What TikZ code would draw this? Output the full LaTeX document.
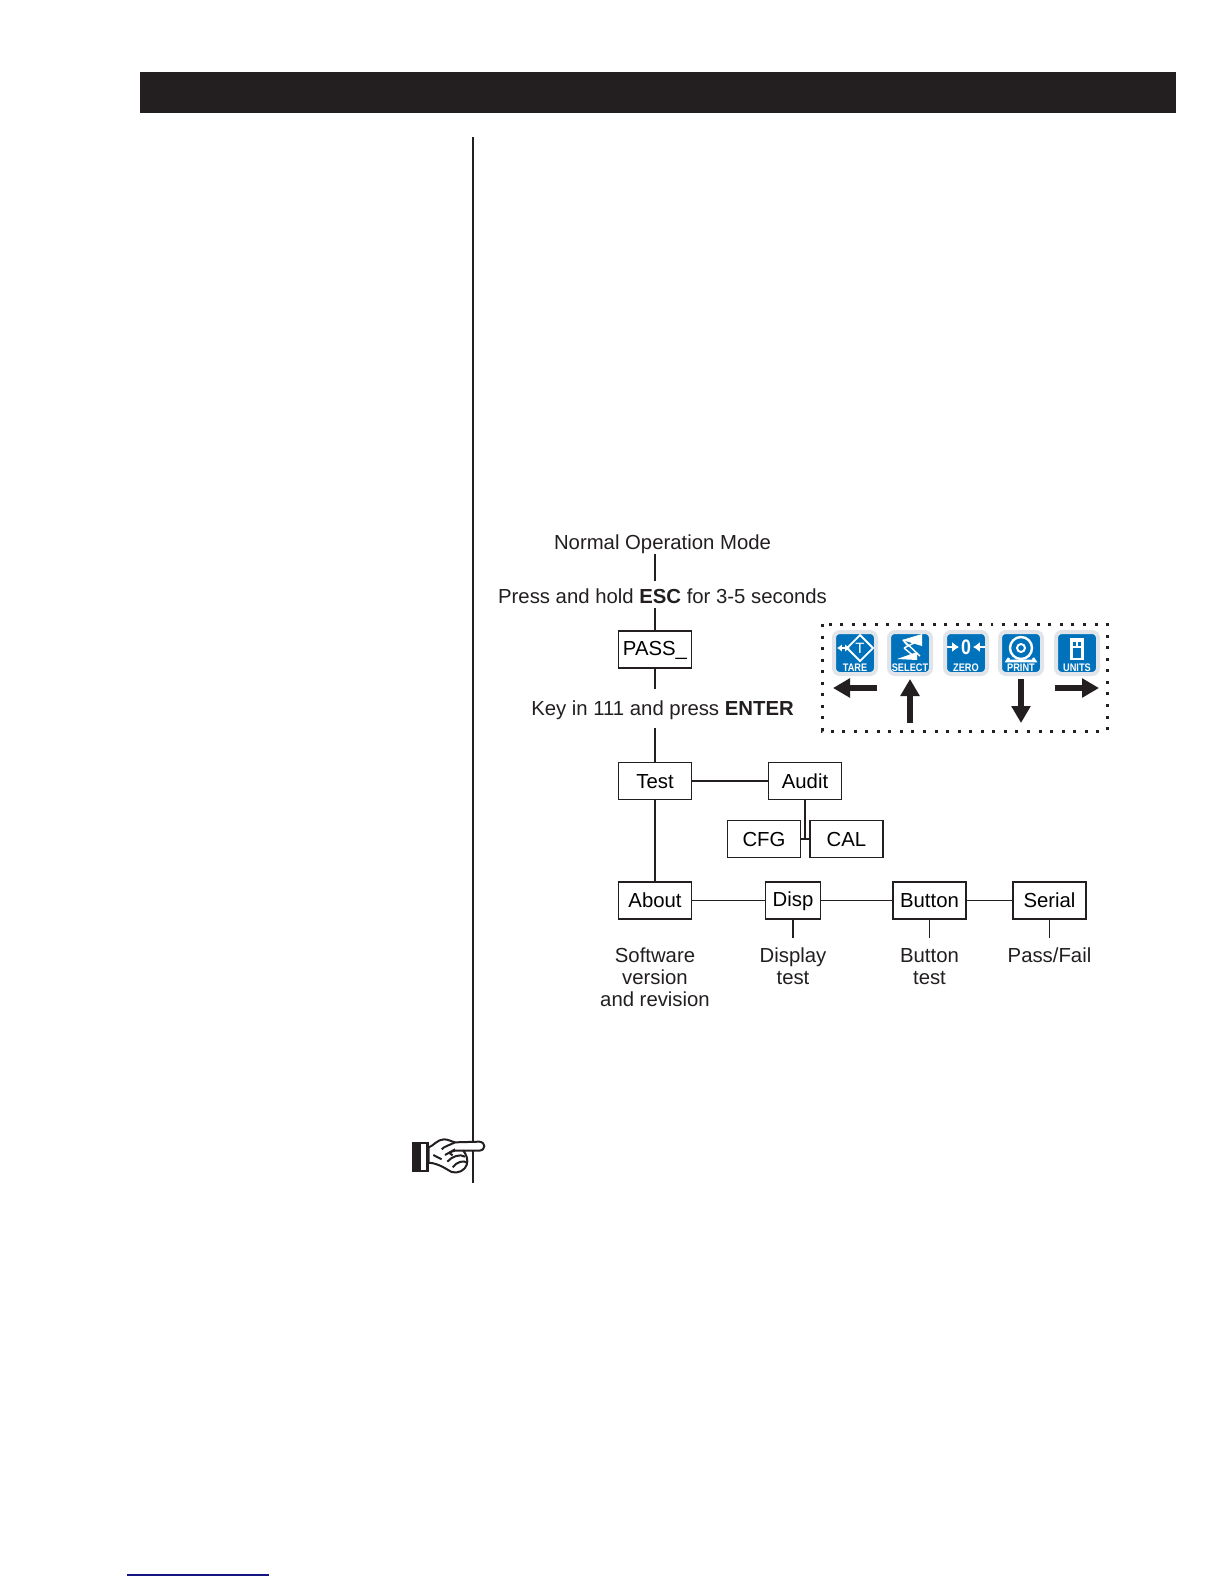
\documentclass[tikz,border=0pt]{standalone}
\usepackage{fontspec}
\setmainfont{Liberation Sans}
\usetikzlibrary{arrows.meta,positioning,calc}
\definecolor{barBlack}{RGB}{35,31,32}
\definecolor{keyBlue}{RGB}{0,114,188}
\definecolor{keyHalo}{RGB}{225,228,232}
\definecolor{linkNavy}{RGB}{20,20,130}
\tikzset{
  boxnode/.style={draw=barBlack, line width=.75pt, minimum height=18.3bp, inner sep=0pt, text height=8bp, text depth=.7bp, font=\fontsize{10.2}{11}\selectfont},
  labelnode/.style={text=barBlack, inner sep=0pt, align=center, font=\fontsize{10.2}{11}\selectfont},
  flowline/.style={draw=barBlack, line width=.7pt},
  keynode/.style={fill=keyBlue, draw=keyHalo, line width=2pt, rounded corners=3pt, minimum width=21bp, minimum height=21bp, inner sep=0pt},
  keytext/.style={text=white, inner sep=0pt, xscale=.84, font=\bfseries\fontsize{5.5}{6}\selectfont},
  keyglyph/.style={draw=white, line width=.9pt},
  bigarrow/.style={draw=barBlack, line width=3.3bp, -{Triangle[length=8.5bp,width=9.2bp]}}
}
\begin{document}
\begin{tikzpicture}[x=0.5bp,y=-0.5bp]
  \useasboundingbox (0,0) rectangle (1224,1584);
  \fill[white] (0,0) rectangle (1224,1584);
  \fill[barBlack] (140,72) rectangle (1176,113);
  \coordinate (railtop) at (473,137);
  \coordinate (railend) at (473,1183);
  \draw[barBlack, line width=1pt] (railtop) -- (railend);
  \draw[linkNavy, line width=.7pt] (127,1575) -- (269,1575);

  % flow chart
  \node[labelnode] (normal) at (662.5,544) {Normal Operation Mode};
  \node[labelnode] (press) at (662.5,596) {Press and hold \textbf{ESC} for 3-5 seconds};
  \node[boxnode, minimum width=36.5bp, text depth=1.7bp] (pass) at (655,649.5) {PASS\_};
  \node[labelnode] (keyin) at (662.5,710) {Key in 111 and press \textbf{ENTER}};
  \node[boxnode, minimum width=36.5bp] (test) at (655,781) {Test};
  \node[boxnode, minimum width=36.5bp] (audit) at (805,781) {Audit};
  \node[boxnode, minimum width=36.5bp] (cfg) at (764,839) {CFG};
  \node[boxnode, minimum width=36.5bp] (cal) at (846.5,839) {CAL};
  \node[boxnode, minimum width=36.5bp] (about) at (655,900.5) {About};
  \node[boxnode, minimum width=27.5bp, text depth=2.4bp] (disp) at (793,900.5) {Disp};
  \node[boxnode, minimum width=36.5bp] (button) at (929.5,900.5) {Button};
  \node[boxnode, minimum width=36.5bp] (serial) at (1049.5,900.5) {Serial};
  \node[labelnode, below=14bp of about] (softtext) {Software\\version\\and revision};
  \node[labelnode, below=14bp of disp] (disptext) {Display\\test};
  \node[labelnode, below=14.5bp of button] (buttontext) {Button\\test};
  \node[labelnode, below=14bp of serial] (serialtext) {Pass/Fail};

  \draw[flowline] ($(pass |- normal)+(0,10)$) -- ($(pass |- press)+(0,-15)$);
  \draw[flowline] ($(pass |- press)+(0,12)$) -- (pass.north);
  \draw[flowline] (pass.south) -- ($(pass |- keyin)+(0,-21)$);
  \draw[flowline] ($(pass |- keyin)+(0,18)$) -- (test.north);
  \draw[flowline] (test) -- (audit);
  \draw[flowline] (test) -- (about);
  \draw[flowline, line width=.85pt] (audit.south) -- (audit |- cfg);
  \draw[flowline] (cfg) -- (cal);
  \draw[flowline] (about) -- (disp);
  \draw[flowline] (disp) -- (button);
  \draw[flowline] (button) -- (serial);
  \draw[flowline] (disp.south) -- ++(0,18);
  \draw[flowline] (button.south) -- ++(0,18);
  \draw[flowline] (serial.south) -- ++(0,18);

  % keypad
  \coordinate (dotnw) at (822,624);
  \coordinate (dotse) at (1107,731);
  \draw[barBlack, line width=1.5pt, dash pattern=on 1.5pt off 4.3pt] (dotnw) rectangle (dotse);
  \foreach \keyname/\keyx/\keylabel in {tare/855/TARE, select/910/SELECT, zero/966/ZERO, print/1021/PRINT, units/1077/UNITS}{
    \node[keynode] (\keyname) at (\keyx,653) {};
    \node[keytext] at (\keyx,667.5) {\keylabel};
  }
  \begin{scope}[shift={(tare)}]
    \draw[keyglyph] (5,-18) -- (18,-5) -- (5,8) -- (-8,-5) -- cycle;
    \node[text=white, inner sep=0pt, font=\fontsize{7.5}{7.5}\selectfont] at (5,-5) {T};
    \draw[keyglyph, line width=1pt, {Latex[length=2.4bp,width=3.6bp]}-{Latex[length=2.4bp,width=3.6bp]}] (-18,-5) -- (-5,-5);
  \end{scope}
  \begin{scope}[shift={(select)}]
    \fill[white] (12,-19) -- (-8,-13) -- (12,-7) -- cycle;
    \fill[white] (-13,6) -- (7,-1) -- (7,7) -- cycle;
    \draw[keyglyph, line width=.7pt] (-7,-13) -- (10,3) (-6,-5) -- (8,-12) (-6,-5) -- (6,5) (-7,-13) -- (-3,-8);
  \end{scope}
  \begin{scope}[shift={(zero)}]
    \node[text=white, inner sep=0pt, font=\bfseries\fontsize{10.5}{10.5}\selectfont, xscale=.85] at (0,-6) {0};
    \draw[keyglyph, line width=1.4pt, -{Latex[length=3.4bp,width=5bp]}] (-19,-6) -- (-7,-6);
    \draw[keyglyph, line width=1.4pt, -{Latex[length=3.4bp,width=5bp]}] (19,-6) -- (7,-6);
  \end{scope}
  \begin{scope}[shift={(print)}]
    \draw[keyglyph, line width=1.2pt] (0,-5) circle (11);
    \draw[keyglyph, line width=1pt] (0,-5) circle (4);
    \draw[keyglyph, line width=1.3pt] (-12,5) -- (-14,8) -- (14,8) -- (12,5);
  \end{scope}
  \begin{scope}[shift={(units)}]
    \draw[keyglyph, line width=1.2pt] (-5.5,-6) rectangle (5.5,6);
    \fill[white] (-7,-15) rectangle (7,-11);
    \draw[keyglyph, line width=1.2pt] (0,-11) -- (0,-6) (-5.5,-6) -- (-5.5,-11) (5.5,-6) -- (5.5,-11);
  \end{scope}
  \coordinate (leftstart) at (877,688);
  \coordinate (rightstart) at (1055,688);
  \coordinate (upstart) at (910,723);
  \coordinate (downstart) at (1021,679);
  \draw[bigarrow] (leftstart) -- (833,688);
  \draw[bigarrow] (rightstart) -- (1099,688);
  \draw[bigarrow] (upstart) -- (select |- 0,679);
  \draw[bigarrow] (downstart) -- (print |- 0,723);

  % pointing hand
  \begin{scope}[shift={(400,1110)},scale=1/3]
    \fill[barBlack] (35,97) rectangle (86,187);
    \fill[white] (64,102) rectangle (78,180);
    \draw[barBlack, fill=white, line width=1pt, line join=round] (86,112) .. controls (100,108) and (112,88) .. (132,88)
      .. controls (145,88) and (155,95) .. (165,97) -- (238,95) .. controls (258,97) and (258,120) .. (238,122)
      -- (190,122) .. controls (200,135) and (205,150) .. (200,165) .. controls (195,180) and (175,192) .. (155,186)
      .. controls (135,175) and (115,160) .. (86,158) -- cycle;
    \draw[barBlack, line width=1pt] (165,97) .. controls (150,105) and (130,110) .. (125,118)
      (190,122) -- (165,122) .. controls (150,125) and (145,130) .. (158,136)
      (135,135) -- (165,118) (142,155) .. controls (155,140) and (180,130) .. (195,140)
      (158,172) .. controls (170,155) and (190,150) .. (202,158) (100,135) -- (125,148);
  \end{scope}
\end{tikzpicture}
\end{document}
